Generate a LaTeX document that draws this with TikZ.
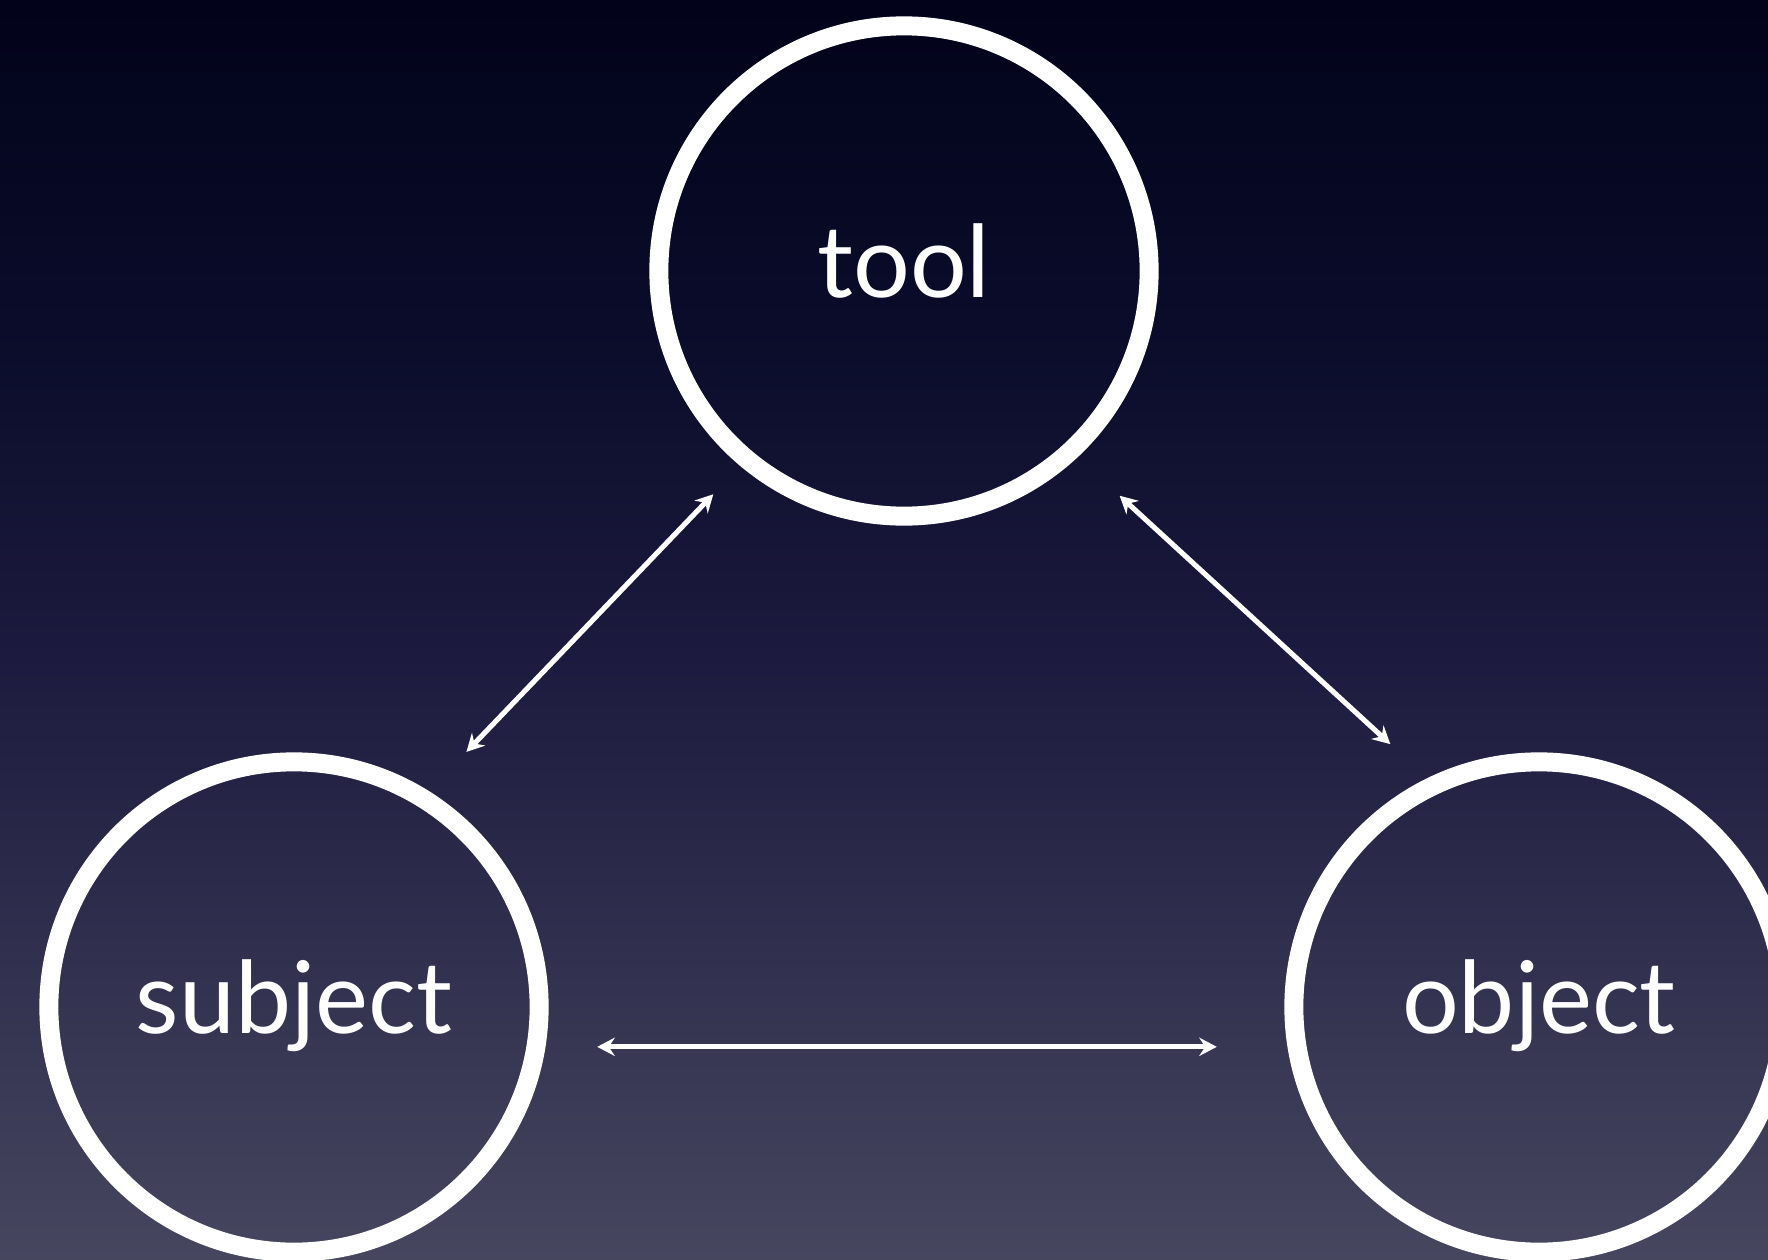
\documentclass[tikz,border=0pt]{standalone}
\usepackage{fontspec}
\setmainfont{Lato}
\usepackage{xcolor}
\usepackage{tikz}
\usetikzlibrary{
  arrows.meta,
  positioning
}
\definecolor{bgtop}{HTML}{02031A}
\definecolor{bgupper}{HTML}{0A0C2A}
\definecolor{bgmid}{HTML}{1C1A3E}
\definecolor{bgbot}{HTML}{46465F}
\pgfdeclareverticalshading{bgfade}{100bp}{color(0bp)=(bgbot); color(25bp)=(bgbot); color(49bp)=(bgmid); color(62bp)=(bgupper); color(75bp)=(bgtop); color(100bp)=(bgtop)}

\begin{document}
\begin{tikzpicture}[x=0.01cm, y=-0.01cm,
    every node/.style={text=white, font=\fontsize{28.5}{34}\selectfont, text height=14.8pt, text depth=0pt},
    role/.style={circle, draw=white, line width=5.4pt, minimum size=4.9cm, inner sep=0pt},
    link/.style={draw=white, line width=1.45pt, {Stealth[length=5pt, width=5.2pt, inset=1.7pt]}-{Stealth[length=5pt, width=5.2pt, inset=1.7pt]}}]
\clip (0,0) rectangle (1768,1260);
\shade [shading=bgfade] (0,0) rectangle (1768,1260);
\node [role] (tool) at (904,271) {tool};
\node [role] (subject) at (294,1007) {subject};
\node [role] (object) at (1539,1007) {object};
\draw [link, shorten <=15.4pt, shorten >=11.1pt] (subject.58.3) -- (tool.230.5);
\draw [link, shorten <=16.2pt, shorten >=14.3pt] (tool.313.2) -- (object.116.2);
\draw [link, shorten <=14.7pt, shorten >=20.1pt] (subject.-9.75) -- (object.189.75);
\end{tikzpicture}
\end{document}
